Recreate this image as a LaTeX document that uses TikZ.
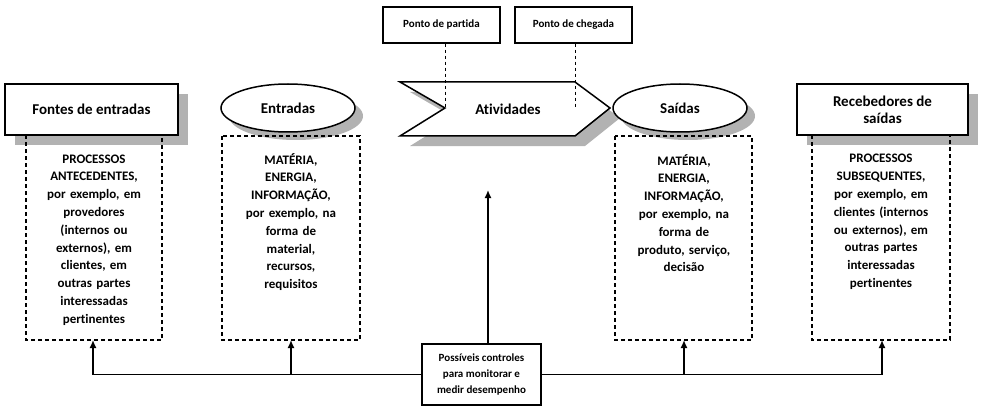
\documentclass[tikz,border=0pt]{standalone}
\usepackage{fontspec}
\setmainfont[Ligatures={NoCommon}]{Carlito}
\usetikzlibrary{shapes.geometric,arrows.meta}
\begin{document}
\begin{tikzpicture}[x=1pt,y=-1pt,
 title/.style={font=\bfseries\fontsize{15}{17}\selectfont,align=center},
 body/.style={font=\bfseries\fontsize{13}{17.8}\selectfont,align=center,text width=136pt},
 small/.style={font=\bfseries\fontsize{11}{18}\selectfont,align=center},
 dbox/.style={draw,dashed,line width=1.2pt,dash pattern=on 4pt off 3pt},
 sh/.style={fill=black!30},
 arr/.style={line width=1.5pt,-{Latex[length=8pt,width=7pt]}}]
\useasboundingbox (0,0) rectangle (982,409);
% Fontes
\fill[sh] (15,94) rectangle (188,145);
\node[draw,line width=2pt,fill=white,minimum width=173pt,minimum height=51pt,title] (fe) at (91.5,109.5) {Fontes de entradas};
\draw[dbox] (26,135) -- (26,340) -- (162,340) -- (162,135);
\node[body] (t1) at (94,240) {PROCESSOS\\ANTECEDENTES,\\por exemplo, em\\provedores\\(internos ou\\externos), em\\clientes, em\\outras partes\\interessadas\\pertinentes};
% Entradas
\fill[sh] (296,116) ellipse (67 and 24);
\node[draw,line width=1.5pt,fill=white,ellipse,minimum width=134pt,minimum height=48pt,title,inner sep=0] (en) at (288,108) {Entradas};
\draw[dbox] (222,136) rectangle (360,340);
\node[body] (t2) at (291,222) {MATÉRIA,\\ENERGIA,\\INFORMAÇÃO,\\por exemplo, na\\forma de\\material,\\recursos,\\requisitos};
% Atividades
\fill[sh] (410,92) -- (585,92) -- (620,118) -- (585,146) -- (410,146) -- (455,118) -- cycle;
\draw[line width=1.5pt,fill=white] (400,82) -- (575,82) -- (610,108) -- (575,136) -- (400,136) -- (445,108) -- cycle;
\node[title] (at) at (508,109) {Atividades};
\node[draw,line width=1.5pt,minimum width=117pt,minimum height=36pt,small] (pp) at (441.5,25) {Ponto de partida};
\node[draw,line width=1.5pt,minimum width=117pt,minimum height=36pt,small] (pc) at (573.5,25) {Ponto de chegada};
\coordinate (pa) at (445,108);
\coordinate (ca) at (575,108);
\draw[dashed,thick] (pp.south -| pa) -- (pa);
\draw[dashed,thick] (pc.south -| ca) -- (ca);
% Saidas
\fill[sh] (688,116) ellipse (67 and 24);
\node[draw,line width=1.5pt,fill=white,ellipse,minimum width=134pt,minimum height=48pt,title,inner sep=0] (sa) at (680,108) {Saídas};
\draw[dbox] (615,136) rectangle (752,340);
\node[body] (t3) at (684,213) {MATÉRIA,\\ENERGIA,\\INFORMAÇÃO,\\por exemplo, na\\forma de\\produto, serviço,\\decisão};
% Recebedores
\fill[sh] (807,94) rectangle (978,145);
\node[draw,line width=2pt,fill=white,minimum width=171pt,minimum height=51pt,title] (rs) at (882.5,109.5) {Recebedores de\\saídas};
\draw[dbox] (812,135) -- (812,340) -- (950,340) -- (950,135);
\node[body] (t4) at (881,222) {PROCESSOS\\SUBSEQUENTES,\\por exemplo, em\\clientes (internos\\ou externos), em\\outras partes\\interessadas\\pertinentes};
% Controles
\node[draw,line width=2pt,minimum width=119pt,minimum height=61pt,small,font=\bfseries\fontsize{11}{16}\selectfont] (pc2) at (481.5,374.5) {Possíveis controles\\para monitorar e\\medir desempenho};
\coordinate (a1) at (93,340); \coordinate (a2) at (291,340);
\coordinate (a3) at (684,340); \coordinate (a4) at (882,340);
\coordinate (ua) at (488,190);
\draw[line width=1.5pt] (pc2.west) -- (a1 |- pc2.west);
\draw[line width=1.5pt] (pc2.east) -- (a4 |- pc2.east);
\foreach \a in {a1,a2,a3,a4} \draw[arr] (\a |- pc2.west) -- (\a);
\draw[arr] (pc2.north -| ua) -- (ua);
\end{tikzpicture}
\end{document}
